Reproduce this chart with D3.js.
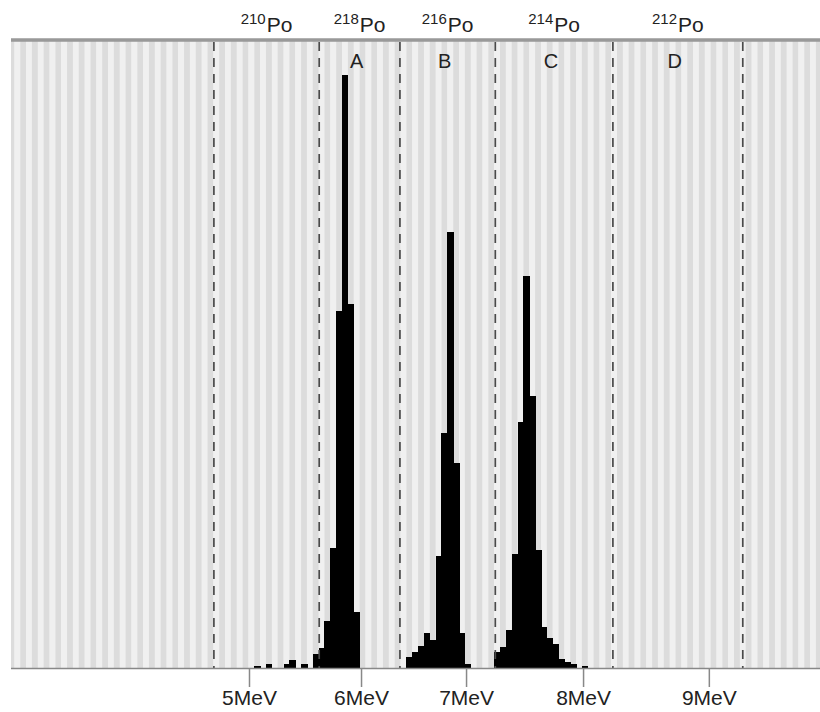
<!DOCTYPE html>
<html>
<head>
<meta charset="utf-8">
<script src="https://cdn.jsdelivr.net/npm/d3@7"></script>
<style>
  body { margin: 0; background: #fff; }
  text { font-family: "Liberation Sans", Arial, Helvetica, sans-serif; fill: #222; }
</style>
</head>
<body>
<div id="viz"></div>
<script>
    var width = 820;
    var height = 712;

    var plot = { left: 11, right: 820, top: 40, bottom: 668 }

    // counts per channel
    var firstA = 41;
    var countsA = [2, 0, 4, 0, 0, 4, 8, 0, 4, 0, 14, 20, 47, 120, 357, 593, 364, 56];
    var firstB = 67;
    var countsB = [11, 16, 22, 35, 28, 112, 235, 436, 205, 35, 4];
    var firstC = 82;
    var countsC = [16, 21, 38, 114, 246, 392, 272, 118, 41, 30, 24, 9, 6, 4, 0, 2];

    // energy ticks (channel position of each label)
    var tickChannels = [40.1, 59.25, 77.2, 97.2, 118.7];
    var tickLabels = ['5MeV', '6MeV', '7MeV', '8MeV', '9MeV'];

    // window boundaries (dashed lines) and their labels
    var boundaries = [34.1, 52.1, 65.9, 82.2, 102.3, 124.5];
    var isotopes = ['210', '218', '216', '214', '212'];
    var windowNames = ['', 'A', 'B', 'C', 'D'];

    var bins = [];
    [[firstA, countsA], [firstB, countsB], [firstC, countsC]].forEach(function(p) {
        p[1].forEach(function(c, i) {
            if (c > 0) bins.push({ ch: p[0] + i, count: c });
        });
    });

    var xScale = d3.scaleLinear()
        .domain([-0.58, 137.7])
        .range([plot.left, plot.right]);

    var yScale = d3.scaleLinear()
        .domain([0, 628])
        .range([plot.bottom, plot.top]);

    var svg = d3.select('#viz')
        .append('svg')
        .attr('width', width)
        .attr('height', height);

    svg.append('clipPath')
        .attr('id', 'clip')
        .append('rect')
        .attr('x', plot.left)
        .attr('y', plot.top)
        .attr('width', plot.right - plot.left)
        .attr('height', plot.bottom - plot.top);

    // striped background, one stripe per channel
    svg.append('g')
        .attr('clip-path', 'url(#clip)')
        .selectAll('.stripe')
        .data(d3.range(-1, 139))
        .enter()
        .append('rect')
        .attr('class', 'stripe')
        .attr('x', (d) => xScale(d))
        .attr('y', plot.top)
        .attr('width', xScale(1) - xScale(0) + 0.3)
        .attr('height', plot.bottom - plot.top)
        .attr('fill', (d) => (d % 2 === 0) ? '#f0f0f0' : '#dcdcdc');

    // histogram bars
    svg.append('g')
        .attr('shape-rendering', 'crispEdges')
        .selectAll('.bar')
        .data(bins)
        .enter()
        .append('rect')
        .attr('class', 'bar')
        .attr('x', (d) => xScale(d.ch))
        .attr('y', (d) => yScale(d.count))
        .attr('width', xScale(1) - xScale(0) + 0.6)
        .attr('height', (d) => yScale(0) - yScale(d.count))
        .attr('fill', '#000');

    // dashed window lines
    svg.append('g')
        .selectAll('.window')
        .data(boundaries)
        .enter()
        .append('line')
        .attr('class', 'window')
        .attr('x1', (d) => xScale(d))
        .attr('x2', (d) => xScale(d))
        .attr('y1', plot.top + 2)
        .attr('y2', plot.bottom)
        .attr('stroke', '#4a4a4a')
        .attr('stroke-width', 1.7)
        .attr('stroke-dasharray', '9,7');

    // top border
    svg.append('line')
        .attr('x1', plot.left).attr('x2', plot.right)
        .attr('y1', plot.top).attr('y2', plot.top)
        .attr('stroke', '#999')
        .attr('stroke-width', 3.5);

    // bottom axis
    var xAxis = d3.axisBottom(xScale)
        .tickValues(tickChannels)
        .tickFormat((d, i) => tickLabels[i])
        .tickSize(19)
        .tickPadding(3);

    var axis = svg.append('g')
        .attr('transform', 'translate(0,' + plot.bottom + ')')
        .call(xAxis);

    axis.select('.domain').remove();
    axis.selectAll('line').attr('stroke', '#888').attr('stroke-width', 1.5);
    axis.selectAll('text')
        .style('font-size', '21px')
        .style('font-family', '"Liberation Sans", Arial, sans-serif')
        .attr('fill', '#222');

    svg.append('line')
        .attr('x1', plot.left).attr('x2', plot.right)
        .attr('y1', plot.bottom + 0.5).attr('y2', plot.bottom + 0.5)
        .attr('stroke', '#888')
        .attr('stroke-width', 1.5);

    // isotope labels above each window
    var mids = isotopes.map((d, i) => (boundaries[i] + boundaries[i + 1]) / 2);

    var iso = svg.append('g')
        .selectAll('.iso')
        .data(isotopes)
        .enter()
        .append('text')
        .attr('class', 'iso')
        .attr('x', (d, i) => xScale(mids[i]))
        .attr('y', 32)
        .attr('text-anchor', 'middle');

    iso.append('tspan')
        .style('font-size', '15px')
        .attr('dy', -8)
        .text((d) => d);
    iso.append('tspan')
        .style('font-size', '21px')
        .attr('dy', 8)
        .attr('dx', 1)
        .text('Po');

    // window letters
    svg.append('g')
        .selectAll('.win-name')
        .data(windowNames)
        .enter()
        .append('text')
        .attr('class', 'win-name')
        .attr('x', (d, i) => xScale(mids[i]) - 3)
        .attr('y', 68)
        .attr('text-anchor', 'middle')
        .style('font-size', '20px')
        .text((d) => d);
</script>
</body>
</html>
